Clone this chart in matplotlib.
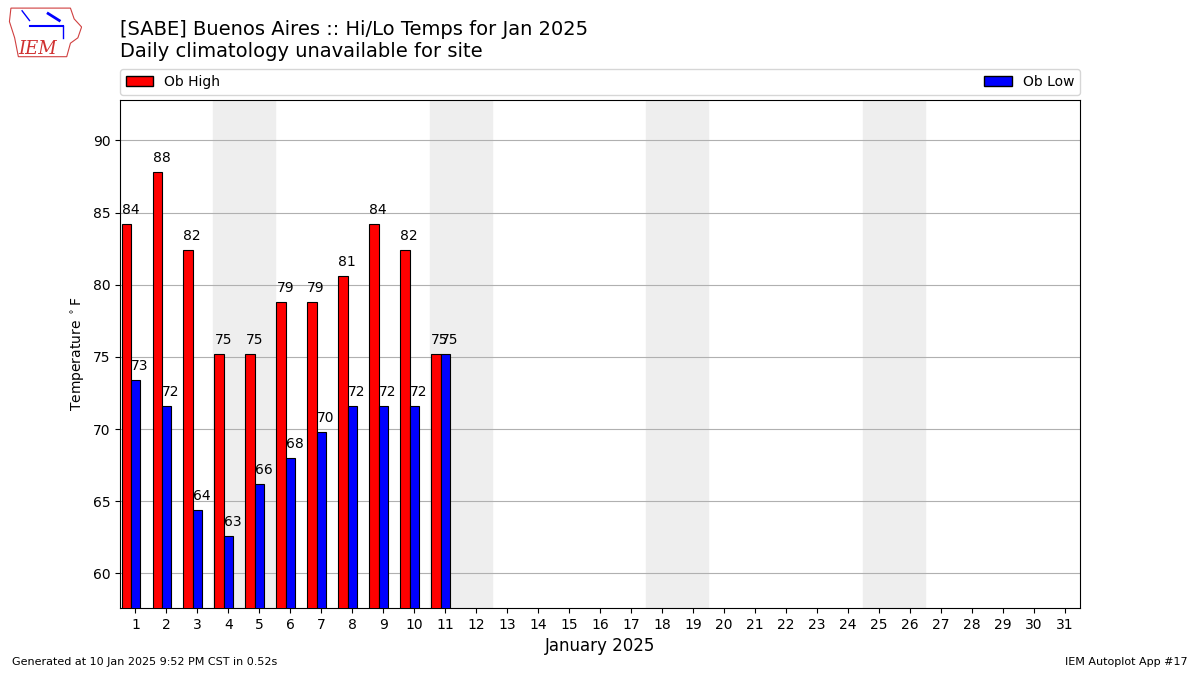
import numpy as np
import matplotlib.pyplot as plt
from matplotlib.patches import Polygon, Patch

# observed daily temperatures, degF
days = np.arange(1, 12)
highs = [84.2, 87.8, 82.4, 75.2, 75.2, 78.8, 78.8, 80.6, 84.2, 82.4, 75.2]
lows = [73.4, 71.6, 64.4, 62.6, 66.2, 68.0, 69.8, 71.6, 71.6, 71.6, 75.2]
weekends = [(4, 5), (11, 12), (18, 19), (25, 26)]

WIDTH = 0.3

fig = plt.figure(figsize=(12, 6.75), dpi=100)
ax = fig.add_axes([0.1, 0.0993, 0.8, 0.7526])

for a, b in weekends:
    ax.axvspan(a - 0.5, b + 0.5, color='#eeeeee', zorder=0)

ax.bar(days - WIDTH, highs, WIDTH, align='center', color='red',
       edgecolor='black', linewidth=0.8, zorder=3, label='Ob High')
ax.bar(days, lows, WIDTH, align='center', color='blue',
       edgecolor='black', linewidth=0.8, zorder=3, label='Ob Low')

for d, h, l in zip(days, highs, lows):
    ax.text(d - 1.5 * WIDTH, h + 0.5, f'{h:.0f}', ha='left', va='bottom',
            fontsize=10, zorder=4)
    ax.text(d - 0.5 * WIDTH, l + 0.5, f'{l:.0f}', ha='left', va='bottom',
            fontsize=10, zorder=4)

ax.set_xlim(0.5, 31.5)
ax.set_ylim(57.6, 92.8)
ax.set_xticks(range(1, 32))
ax.set_yticks(range(60, 91, 5))
ax.tick_params(labelsize=10)
ax.yaxis.grid(True, color='#b0b0b0', linewidth=0.8, zorder=1)
ax.set_axisbelow(True)
ax.set_xlabel('January 2025', fontsize=12)
ax.set_ylabel(r'Temperature $^\circ$F', fontsize=10)

handles = [Patch(facecolor='red', edgecolor='black', label='Ob High'),
           Patch(facecolor='blue', edgecolor='black', label='Ob Low')]
fig.legend(handles=handles, loc='lower left', ncol=2, mode='expand',
           bbox_to_anchor=(0.1, 0.86, 0.8, 0.04), fontsize=10,
           borderaxespad=0, handlelength=2)

fig.text(0.1, 0.97, '[SABE] Buenos Aires :: Hi/Lo Temps for Jan 2025\n'
         'Daily climatology unavailable for site', ha='left', va='top',
         fontsize=14, linespacing=1.2)

fig.text(0.01, 0.012, 'Generated at 10 Jan 2025 9:52 PM CST in 0.52s',
         fontsize=8, ha='left', va='bottom')
fig.text(0.99, 0.012, 'IEM Autoplot App #17', fontsize=8, ha='right',
         va='bottom')

# rough stand-in for the IEM logo
logo = fig.add_axes([0.006, 0.912, 0.062, 0.08])
logo.axis('off')
logo.set_xlim(0, 1)
logo.set_ylim(0, 1)
outline = [(0.05, 0.95), (0.85, 0.95), (0.9, 0.75), (1.0, 0.6), (0.95, 0.4),
           (0.85, 0.3), (0.8, 0.05), (0.15, 0.05), (0.1, 0.4), (0.03, 0.7)]
logo.add_patch(Polygon(outline, closed=True, fill=False, edgecolor='#d04040',
                       linewidth=0.8))
logo.plot([0.3, 0.75], [0.62, 0.62], color='blue', linewidth=1.5)
logo.plot([0.2, 0.3], [0.9, 0.72], color='blue', linewidth=1)
logo.plot([0.55, 0.7], [0.85, 0.72], color='blue', linewidth=2)
logo.plot([0.75, 0.75], [0.62, 0.4], color='blue', linewidth=1)
logo.text(0.15, 0.2, 'IEM', color='#d03030', fontsize=13, family='serif',
          style='italic', ha='left', va='center')

fig.savefig('out.png', dpi=100)
